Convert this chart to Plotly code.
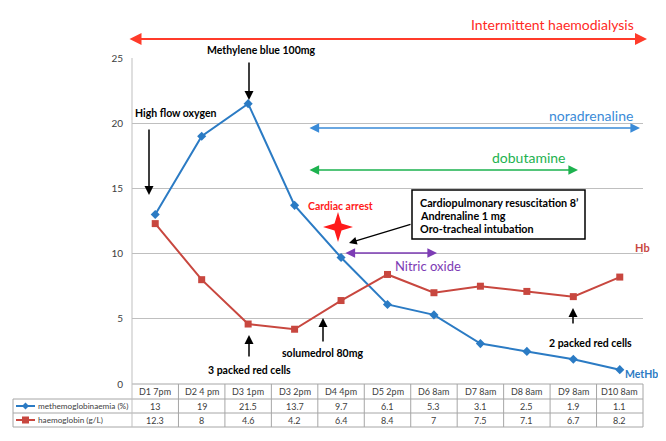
import plotly.graph_objects as go

# ---------------- data ----------------
categories = ["D1 7pm", "D2 4 pm", "D3 1pm", "D3 2pm", "D4 4pm", "D5 2pm",
              "D6 8am", "D7 8am", "D8 8am", "D9 8am", "D10 8am"]
methb = [13, 19, 21.5, 13.7, 9.7, 6.1, 5.3, 3.1, 2.5, 1.9, 1.1]
hb = [12.3, 8, 4.6, 4.2, 6.4, 8.4, 7, 7.5, 7.1, 6.7, 8.2]
series_names = ["methemoglobinaemia (%)", "haemoglobin (g/L)"]
y_ticks = [0, 5, 10, 15, 20, 25]

BLUE = "#2B7BC4"
RED = "#C8473F"
FONT = "Lato"

# page body offsets the figure by 8px; plot area in page pixels 132..643 x, 58..384 y
OFF = 8
X0, X1, YT, YB = 132, 643, 58, 384
W, H = 666 - OFF, 441 - 2 * OFF


def PX(x):
    return (x - X0) / (X1 - X0)


def PY(y):
    return (YB - y) / (YB - YT)


fig = go.Figure()
fig.add_trace(go.Scatter(x=categories, y=methb, mode="lines+markers", name=series_names[0],
                         line=dict(color=BLUE, width=2),
                         marker=dict(symbol="diamond", size=7, color=BLUE)))
fig.add_trace(go.Scatter(x=categories, y=hb, mode="lines+markers", name=series_names[1],
                         line=dict(color=RED, width=2),
                         marker=dict(symbol="square", size=7, color=RED)))

shapes = []
ann = []
GRID = "#BFBFBF"
TBL = "#A6A6A6"

col_w = (X1 - X0) / len(categories)
ROW_T, ROW_1, ROW_2, ROW_3 = 384, 399, 413, 427
TL = 13


def hline(x0, x1, y, color=TBL, w=1):
    shapes.append(dict(type="line", xref="paper", yref="paper", x0=PX(x0), x1=PX(x1),
                       y0=PY(y), y1=PY(y), line=dict(color=color, width=w)))


def vline(x, y0, y1, color=TBL, w=1):
    shapes.append(dict(type="line", xref="paper", yref="paper", x0=PX(x), x1=PX(x),
                       y0=PY(y0), y1=PY(y1), line=dict(color=color, width=w)))


hline(X0, X1, ROW_T)
hline(TL, X1, ROW_1)
hline(TL, X1, ROW_2)
hline(TL, X1, ROW_3)
vline(TL, ROW_1, ROW_3)
vline(X0, YT, ROW_3, color=GRID)
for k in range(1, len(categories) + 1):
    vline(X0 + col_w * k, ROW_T, ROW_3)

TFONT = dict(family=FONT, size=9, color="#404040")
for i, c in enumerate(categories):
    for yy, t in [((ROW_T + ROW_1) / 2, c), ((ROW_1 + ROW_2) / 2, str(methb[i])),
                  ((ROW_2 + ROW_3) / 2, str(hb[i]))]:
        ann.append(dict(x=c, xref="x", y=PY(yy), yref="paper", text=t, xanchor="center",
                        yanchor="middle", showarrow=False, font=TFONT))

for name, color, yrow, sym in [(series_names[0], BLUE, (ROW_1 + ROW_2) / 2, "d"),
                               (series_names[1], RED, (ROW_2 + ROW_3) / 2, "s")]:
    hline(16, 35, yrow, color=color, w=2)
    cx = 25.5
    if sym == "d":
        path = "M {} {} L {} {} L {} {} L {} {} Z".format(
            PX(cx), PY(yrow - 3.5), PX(cx + 3.5), PY(yrow), PX(cx), PY(yrow + 3.5), PX(cx - 3.5), PY(yrow))
    else:
        path = "M {} {} L {} {} L {} {} L {} {} Z".format(
            PX(cx - 3.5), PY(yrow - 3.5), PX(cx + 3.5), PY(yrow - 3.5), PX(cx + 3.5), PY(yrow + 3.5),
            PX(cx - 3.5), PY(yrow + 3.5))
    shapes.append(dict(type="path", xref="paper", yref="paper", path=path,
                       fillcolor=color, line=dict(color=color, width=0)))
    ann.append(dict(x=PX(35.5), y=PY(yrow), xref="paper", yref="paper", text=name, xanchor="left",
                    yanchor="middle", showarrow=False,
                    font=dict(family=FONT, size=8.2, color="#404040")))


def text(x, y, t, color="black", size=11, bold=True, xanchor="center"):
    ann.append(dict(x=PX(x), y=PY(y), xref="paper", yref="paper",
                    text=("<b>%s</b>" % t) if bold else t, showarrow=False, xanchor=xanchor,
                    yanchor="middle", font=dict(family=FONT, size=size, color=color)))


def arrow(hx, hy, tx, ty, color="black", width=1.5, both=False, head=2, hs=1.2):
    d = dict(x=PX(hx), y=PY(hy), xref="paper", yref="paper", ax=tx - hx, ay=ty - hy,
             axref="pixel", ayref="pixel", text="", showarrow=True, arrowhead=head,
             arrowsize=hs, arrowwidth=width, arrowcolor=color, standoff=0, startstandoff=0)
    if both:
        d["arrowside"] = "end+start"
        d["startarrowhead"] = head
        d["startarrowsize"] = hs
    ann.append(d)


text(552, 25, "Intermittent haemodialysis", color="#FF2A1F", size=14, bold=False)
arrow(647, 39, 128, 39, color="#FF3B2A", width=2, both=True)
text(591, 115, "noradrenaline", color="#3A8BD8", size=14, bold=False)
arrow(640, 128, 308, 128, color="#3A8BD8", width=1.6, both=True)
text(528, 157, "dobutamine", color="#1DB24F", size=14, bold=False)
arrow(578, 170, 308, 170, color="#1DB24F", width=1.6, both=True)
text(261, 50, "Methylene blue 100mg", size=10.5)
arrow(249, 100, 249, 61)
text(176, 113, "High flow oxygen", size=10.5)
arrow(149, 195, 149, 128)
text(340, 206, "Cardiac arrest", color="#FF1A1A", size=10.5)
cx, cy, R, r = 338, 227, 15, 3.5
pts = [(cx, cy - R), (cx + r, cy - r), (cx + R, cy), (cx + r, cy + r),
       (cx, cy + R), (cx - r, cy + r), (cx - R, cy), (cx - r, cy - r)]
path = "M " + " L ".join("{} {}".format(PX(a), PY(b)) for a, b in pts) + " Z"
shapes.append(dict(type="path", xref="paper", yref="paper", path=path, fillcolor="#FF1A1A",
                   line=dict(color="#FF1A1A", width=0)))
shapes.append(dict(type="rect", xref="paper", yref="paper", x0=PX(412), x1=PX(585), y0=PY(190),
                   y1=PY(239), fillcolor="white", line=dict(color="black", width=1.5), layer="above"))
text(418, 202, "Cardiopulmonary resuscitation 8’", size=10.8, xanchor="left")
text(418, 215, "Andrenaline 1 mg", size=10.8, xanchor="left")
text(418, 228, "Oro-tracheal intubation", size=10.8, xanchor="left")
arrow(349, 243, 412, 224, width=1.3)
arrow(437, 253, 344, 253, color="#7D3CB5", width=1.6, both=True)
text(428, 266, "Nitric oxide", color="#7D3CB5", size=13, bold=False)
text(633, 247, "Hb", color=RED, size=11, xanchor="left")
text(623, 374, "MetHb", color=BLUE, size=10.5, xanchor="left")
text(249, 370, "3 packed red cells", size=10.5)
arrow(249, 335, 249, 358)
text(322, 353, "solumedrol 80mg", size=10.5)
arrow(323, 318, 323, 343)
text(590, 343, "2 packed red cells", size=10.5)
arrow(573, 308, 573, 325)

fig.update_layout(
    width=W, height=H, autosize=False,
    margin=dict(l=X0 - OFF, r=(W + OFF) - X1, t=YT - OFF, b=(H + OFF) - YB),
    paper_bgcolor="white", plot_bgcolor="white",
    showlegend=False,
    shapes=shapes, annotations=ann,
    xaxis=dict(type="category", range=[-0.5, len(categories) - 0.5], showticklabels=False,
               showgrid=False, zeroline=False, showline=False, ticks=""),
    yaxis=dict(range=[0, 25], tickvals=y_ticks, showgrid=True, gridcolor=GRID, gridwidth=1,
               zeroline=False, showline=False, ticks="", ticklabelstandoff=8,
               tickfont=dict(family=FONT, size=10, color="#404040")),
)

fig.write_html("out.html")
